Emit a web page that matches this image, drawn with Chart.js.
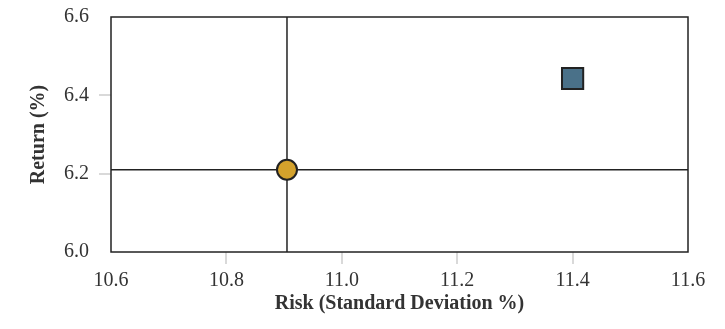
<!DOCTYPE html>
<html>
<head>
<meta charset="utf-8">
<script src="https://cdn.jsdelivr.net/npm/chart.js@4"></script>
<style>
  html, body { margin: 0; padding: 0; background: #fff; }
  #wrap { width: 725px; height: 329px; }
</style>
</head>
<body>
<div id="wrap"><canvas id="chart"></canvas></div>
<script>
// portfolio points
const pointRisk = [10.905, 11.40];
const pointReturn = [6.21, 6.443];
const pointColors = ['#D4A22C', '#4A7189'];
const pointShapes = ['circle', 'rect'];
const pointSizes = [10, 15];

// axis ranges
const xMin = 10.6, xMax = 11.6, xStep = 0.2;
const yMin = 6.0, yMax = 6.6, yStep = 0.2;

const font = "'Liberation Serif', 'DejaVu Serif', serif";
const lineColor = '#222222';

// box around the chart area
const frame = {
  id: 'frame',
  afterDraw(chart) {
    const { ctx, chartArea: a } = chart;
    ctx.save();
    ctx.strokeStyle = lineColor;
    ctx.lineWidth = 1.5;
    ctx.strokeRect(a.left, a.top, a.right - a.left, a.bottom - a.top);
    ctx.restore();
  }
};

function tickColor(ctx) {
  const v = ctx.tick ? ctx.tick.value : null;
  const s = ctx.scale;
  if (v === null || Math.abs(v - s.min) < 1e-6 || Math.abs(v - s.max) < 1e-6) return 'rgba(0,0,0,0)';
  return '#d9d9d9';
}

new Chart(document.getElementById('chart').getContext('2d'), {
  type: 'scatter',
  data: {
    datasets: [
      {
        type: 'line',
        data: [{ x: pointRisk[0], y: yMin }, { x: pointRisk[0], y: yMax }],
        borderColor: lineColor,
        borderWidth: 1.5,
        pointRadius: 0,
        order: 2
      },
      {
        type: 'line',
        data: [{ x: xMin, y: pointReturn[0] }, { x: xMax, y: pointReturn[0] }],
        borderColor: lineColor,
        borderWidth: 1.5,
        pointRadius: 0,
        order: 2
      },
      {
        data: pointRisk.map((r, i) => ({ x: r, y: pointReturn[i] })),
        backgroundColor: pointColors,
        borderColor: lineColor,
        borderWidth: 2,
        pointStyle: pointShapes,
        pointRadius: pointSizes,
        order: 1
      }
    ]
  },
  options: {
    responsive: true,
    maintainAspectRatio: false,
    animation: false,
    layout: { padding: { top: 15, right: 37, bottom: 13, left: 27 } },
    plugins: {
      legend: { display: false },
      tooltip: { enabled: false }
    },
    scales: {
      x: {
        type: 'linear',
        min: xMin,
        max: xMax,
        border: { display: false },
        grid: { drawOnChartArea: false, tickLength: 12, color: tickColor, lineWidth: 2 },
        ticks: {
          stepSize: xStep,
          color: '#333',
          padding: 5,
          font: { family: font, size: 20 },
          callback: v => v.toFixed(1)
        },
        title: {
          display: true,
          text: 'Risk (Standard Deviation %)',
          color: '#333',
          font: { family: font, size: 20, weight: 'bold' },
          padding: { top: -6, bottom: 0 }
        }
      },
      y: {
        type: 'linear',
        min: yMin,
        max: yMax,
        border: { display: false },
        grid: { drawOnChartArea: false, tickLength: 12, color: tickColor, lineWidth: 2 },
        ticks: {
          stepSize: yStep,
          color: '#333',
          padding: 10,
          font: { family: font, size: 20, lineHeight: 0.6 },
          callback: v => v.toFixed(1)
        },
        title: {
          display: true,
          text: 'Return (%)',
          color: '#333',
          font: { family: font, size: 20, weight: 'bold' },
          padding: { top: 0, bottom: 3 }
        }
      }
    }
  },
  plugins: [frame]
});
</script>
</body>
</html>
